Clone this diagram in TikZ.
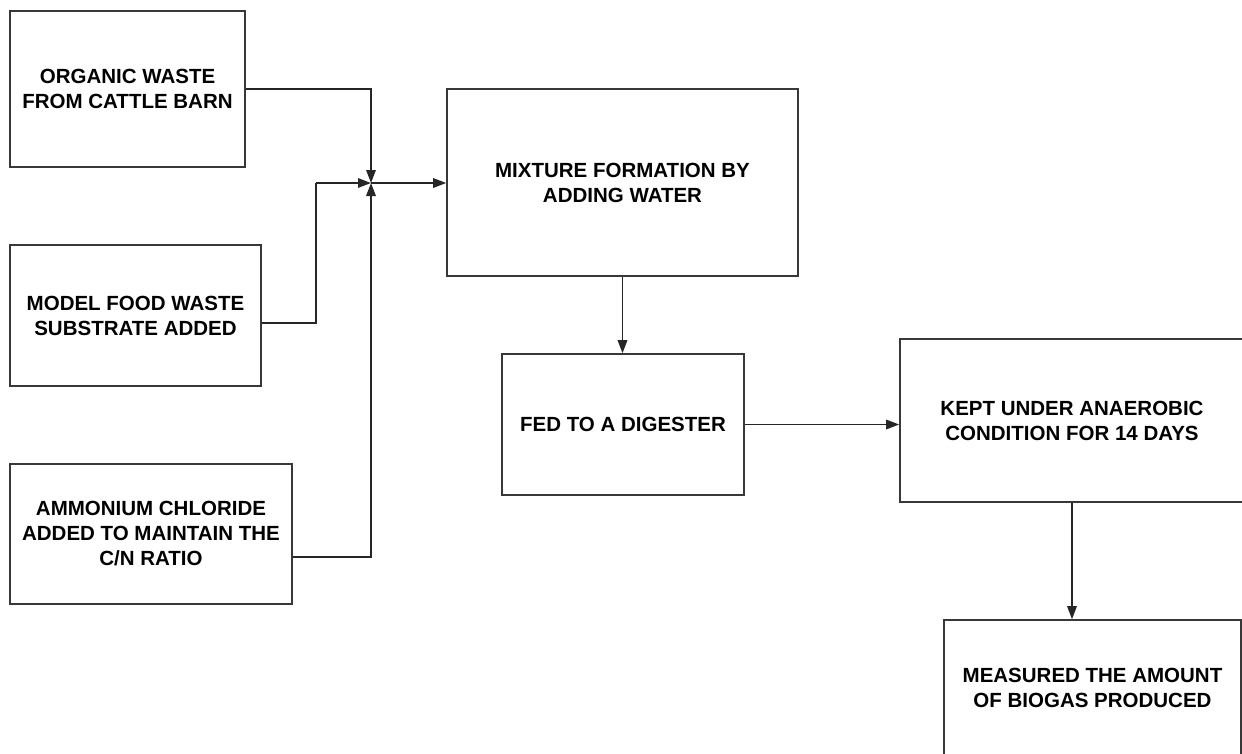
\documentclass[tikz,border=0pt]{standalone}
\usepackage{fontspec}
\setmainfont{Liberation Sans}
\usetikzlibrary{arrows.meta}
\begin{document}
\begin{tikzpicture}[x=1pt,y=-1pt,
  box/.style={draw=black!78,line width=1.6pt,rectangle,inner sep=0pt,align=center,
    font=\fontsize{20.5}{25}\selectfont\bfseries,text=black},
  conn/.style={draw=black!85,line width=1.6pt},
  arr/.style={conn,-{Triangle[length=13pt,width=9.5pt]}}]
\useasboundingbox (0,0) rectangle (1242,753);
\clip (0,0) rectangle (1242,753);
\fill[white] (0,0) rectangle (1242,753);
\node[box,minimum width=235pt,minimum height=156pt] (b1) at (127.5,89) {ORGANIC WASTE\\FROM CATTLE BARN};
\node[box,minimum width=251pt,minimum height=141pt] (b2) at (135.5,315.5) {MODEL FOOD WASTE\\SUBSTRATE ADDED};
\node[box,minimum width=282pt,minimum height=140pt] (b3) at (151,534) {AMMONIUM CHLORIDE\\ADDED TO MAINTAIN THE\\C/N RATIO};
\node[box,minimum width=351pt,minimum height=187pt] (b4) at (622.5,182.5) {MIXTURE FORMATION BY\\ADDING WATER};
\node[box,minimum width=242pt,minimum height=141pt] (b5) at (623,424.5) {FED TO A DIGESTER};
\node[box,minimum width=344pt,minimum height=163pt] (b6) at (1072,420.5) {KEPT UNDER ANAEROBIC\\CONDITION FOR 14 DAYS};
\node[box,minimum width=297pt,minimum height=136pt] (b7) at (1092.5,688) {MEASURED THE AMOUNT\\OF BIOGAS PRODUCED};
\coordinate (j) at (371,183);
\coordinate (k2) at (316,183);
\draw[arr] (b1.east) -| (j);
\draw[conn] ([yshift=-7.5pt]b2.east) -| (k2);
\draw[arr] (k2) -- (j);
\draw[arr] ([yshift=-23pt]b3.east) -| (j);
\draw[arr] (j) -- (b4.west |- j);
\draw[arr] (b4.south) -- (b4.south |- b5.north);
\draw[arr] (b5.east) -- (b5.east -| b6.west);
\draw[arr] (b6.south) -- (b6.south |- b7.north);
\end{tikzpicture}
\end{document}
